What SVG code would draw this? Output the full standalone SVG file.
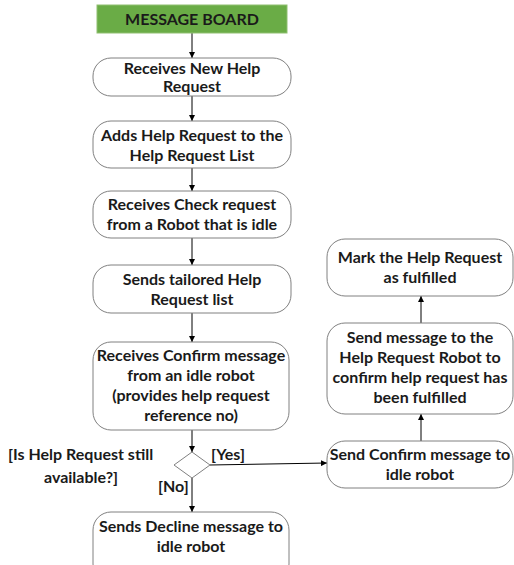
<svg xmlns="http://www.w3.org/2000/svg" width="514" height="565" viewBox="0 0 514 565">
  <defs>
    <marker id="arrow" viewBox="0 0 8 8" refX="8" refY="4" markerWidth="6" markerHeight="6" orient="auto" markerUnits="userSpaceOnUse">
      <path d="M0,0 L8,4 L0,8 z" fill="#000"/>
    </marker>
    <style>
      .box { fill: #fff; stroke: #808080; stroke-width: 1; }
      .lbl { font-family: "Lato", "Liberation Sans", sans-serif; font-weight: bold; font-size: 16px; fill: #1a1a1a; text-anchor: middle; }
      .cond { font-family: "Lato", "Liberation Sans", sans-serif; font-weight: bold; font-size: 16px; fill: #1a1a1a; }
      .edge { fill: none; stroke: #000; stroke-width: 1; marker-end: url(#arrow); }
    </style>
  </defs>
  <rect width="514" height="565" fill="#fff"/>

  <g id="connectors">
    <line class="edge" x1="192" y1="33" x2="192" y2="58"/>
    <line class="edge" x1="192" y1="96" x2="192" y2="121"/>
    <line class="edge" x1="192" y1="168" x2="192" y2="191"/>
    <line class="edge" x1="192" y1="238" x2="192" y2="265"/>
    <line class="edge" x1="192" y1="313" x2="192" y2="342"/>
    <line class="edge" x1="192" y1="430" x2="192" y2="452"/>
    <line class="edge" x1="192" y1="478" x2="192" y2="512"/>
    <line class="edge" x1="210" y1="465" x2="327" y2="463"/>
    <line class="edge" x1="421" y1="441" x2="421" y2="414"/>
    <line class="edge" x1="421" y1="323" x2="421" y2="296"/>
  </g>

  <g id="message-board">
    <rect x="97" y="5" width="190" height="28" fill="#6aac46" stroke="#8fbf70" stroke-width="1"/>
    <text class="lbl" x="192" y="25">MESSAGE BOARD</text>
  </g>

  <g id="receive-new">
    <rect class="box" x="93" y="58" width="198" height="38" rx="18"/>
    <text class="lbl" x="192" y="74">Receives New Help</text>
    <text class="lbl" x="192" y="92">Request</text>
  </g>

  <g id="add-to-list">
    <rect class="box" x="93" y="121" width="198" height="47" rx="18"/>
    <text class="lbl" x="192" y="141">Adds Help Request to the</text>
    <text class="lbl" x="192" y="161">Help Request List</text>
  </g>

  <g id="receive-check">
    <rect class="box" x="93" y="191" width="198" height="47" rx="18"/>
    <text class="lbl" x="192" y="210">Receives Check request</text>
    <text class="lbl" x="192" y="230">from a Robot that is idle</text>
  </g>

  <g id="send-list">
    <rect class="box" x="93" y="265" width="198" height="48" rx="18"/>
    <text class="lbl" x="192" y="285">Sends tailored Help</text>
    <text class="lbl" x="192" y="305">Request list</text>
  </g>

  <g id="receive-confirm">
    <rect class="box" x="93" y="342" width="196" height="88" rx="18"/>
    <text class="lbl" x="191" y="361">Receives Confirm message</text>
    <text class="lbl" x="191" y="381">from an idle robot</text>
    <text class="lbl" x="191" y="401">(provides help request</text>
    <text class="lbl" x="191" y="421">reference no)</text>
  </g>

  <g id="decision">
    <path d="M192,452 L210,465 L192,478 L174,465 z" fill="#fff" stroke="#808080" stroke-width="1"/>
    <text class="cond" x="8" y="460">[Is Help Request still</text>
    <text class="cond" x="44" y="483">available?]</text>
    <text class="cond" x="211" y="460">[Yes]</text>
    <text class="cond" x="158" y="492">[No]</text>
  </g>

  <g id="send-decline">
    <rect class="box" x="93" y="512" width="196" height="70" rx="18"/>
    <text class="lbl" x="191" y="532">Sends Decline message to</text>
    <text class="lbl" x="191" y="552">idle robot</text>
  </g>

  <g id="send-confirm">
    <rect class="box" x="327" y="441" width="186" height="47" rx="18"/>
    <text class="lbl" x="420" y="460">Send Confirm message to</text>
    <text class="lbl" x="420" y="480">idle robot</text>
  </g>

  <g id="notify-requester">
    <rect class="box" x="327" y="323" width="186" height="91" rx="18"/>
    <text class="lbl" x="420" y="343">Send message to the</text>
    <text class="lbl" x="420" y="363">Help Request Robot to</text>
    <text class="lbl" x="420" y="383">confirm help request has</text>
    <text class="lbl" x="420" y="403">been fulfilled</text>
  </g>

  <g id="mark-fulfilled">
    <rect class="box" x="327" y="239" width="186" height="57" rx="18"/>
    <text class="lbl" x="420" y="263">Mark the Help Request</text>
    <text class="lbl" x="420" y="283">as fulfilled</text>
  </g>
</svg>
